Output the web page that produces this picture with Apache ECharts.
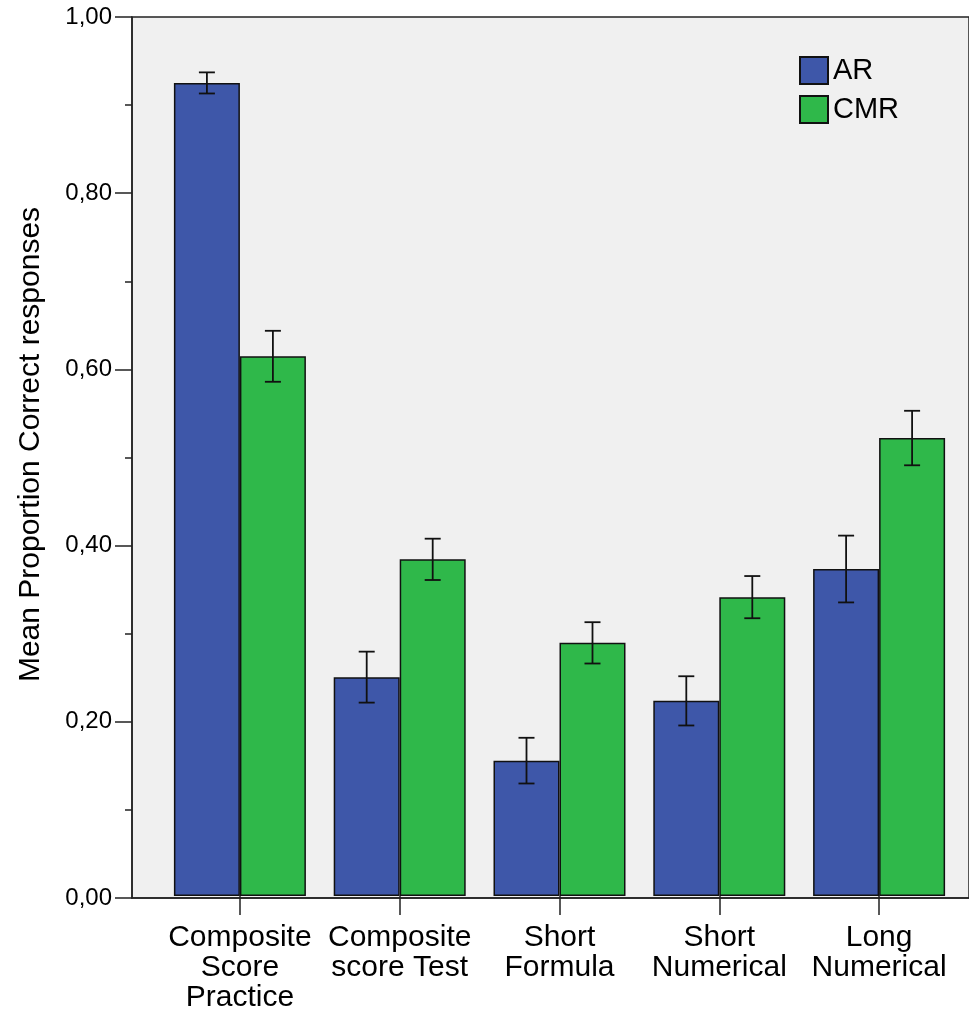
<!DOCTYPE html>
<html>
<head>
<meta charset="utf-8">
<script src="https://cdn.jsdelivr.net/npm/echarts@6/dist/echarts.min.js"></script>
<style>
html,body{margin:0;padding:0;background:#fff;}
#chart{width:969px;height:1013px;}
</style>
</head>
<body>
<div id="chart"></div>
<script>
const categories = ['Composite\nScore\nPractice', 'Composite\nscore Test', 'Short\nFormula', 'Short\nNumerical', 'Long\nNumerical'];
const seriesNames = ['AR', 'CMR'];
const arMean = [0.925, 0.249, 0.154, 0.222, 0.372];
const arErr = [0.012, 0.029, 0.026, 0.028, 0.038];
const cmrMean = [0.614, 0.383, 0.288, 0.340, 0.521];
const cmrErr = [0.029, 0.0235, 0.0235, 0.024, 0.031];
const yTicks = [0, 0.2, 0.4, 0.6, 0.8, 1.0];

const FONT = "'Liberation Sans', Arial, sans-serif";
const BLUE = '#3E57A9';
const GREEN = '#2FB84A';
const CAT_GAP = 0.174;

function errData(means, errs) {
  return means.map((m, i) => [i, m - errs[i], m + errs[i]]);
}

function errSeries(name, means, errs, side) {
  return {
    type: 'custom',
    name: name + ' err',
    xAxisIndex: 1,
    yAxisIndex: 1,
    silent: true,
    z: 5,
    data: errData(means, errs),
    renderItem: function (params, api) {
      const band = api.size([1, 0])[0];
      const barW = band * (1 - CAT_GAP) / 2;
      const cx = api.coord([api.value(0), 0])[0] + side * barW / 2;
      const yl = api.coord([api.value(0), api.value(1)])[1];
      const yh = api.coord([api.value(0), api.value(2)])[1];
      const cap = 8;
      const st = { stroke: '#111', lineWidth: 1.8 };
      return {
        type: 'group',
        children: [
          { type: 'line', shape: { x1: cx, y1: yl, x2: cx, y2: yh }, style: st },
          { type: 'line', shape: { x1: cx - cap, y1: yh, x2: cx + cap, y2: yh }, style: st },
          { type: 'line', shape: { x1: cx - cap, y1: yl, x2: cx + cap, y2: yl }, style: st }
        ]
      };
    }
  };
}

const chart = echarts.init(document.getElementById('chart'));
chart.setOption({
  animation: false,
  backgroundColor: '#ffffff',
  textStyle: { fontFamily: FONT },
  legend: {
    orient: 'vertical',
    left: 794,
    top: 51,
    itemWidth: 28,
    itemHeight: 27,
    itemGap: 10,
    icon: 'rect',
    data: seriesNames,
    textStyle: { fontSize: 29, color: '#000', fontFamily: FONT }
  },
  grid: [
    { left: 132, top: 17, width: 845, height: 881, show: true, backgroundColor: '#F0F0F0', borderColor: '#222', borderWidth: 1.5, containLabel: false },
    { left: 160, top: 17, width: 799, height: 881, containLabel: false }
  ],
  xAxis: [
    { type: 'category', gridIndex: 0, data: ['a'], axisLine: { show: true, lineStyle: { color: '#222', width: 1.5 } }, axisTick: { show: false }, axisLabel: { show: false }, splitLine: { show: false } },
    { type: 'category', gridIndex: 1, data: categories, axisLine: { show: false },
      axisTick: { show: true, alignWithLabel: true, length: 19, lineStyle: { color: '#222', width: 1.5 } },
      axisLabel: { fontSize: 30, color: '#000', margin: 27, lineHeight: 30, fontFamily: FONT, interval: 0 },
      splitLine: { show: false } }
  ],
  yAxis: [
    { type: 'value', gridIndex: 0, min: 0, max: 1, interval: 0.2,
      axisLine: { show: true, lineStyle: { color: '#222', width: 1.5 } },
      axisTick: { show: true, length: 17, lineStyle: { color: '#222', width: 1.5 } },
      minorTick: { show: true, splitNumber: 2, length: 7, lineStyle: { color: '#222', width: 1.5 } },
      splitLine: { show: false },
      axisLabel: { fontSize: 24, color: '#000', margin: 20, fontFamily: FONT,
        formatter: v => v.toFixed(2).replace('.', ',') },
      name: 'Mean Proportion Correct responses',
      nameLocation: 'middle',
      nameGap: 86,
      nameTextStyle: { fontSize: 30, color: '#000', fontFamily: FONT, padding: [0, 0, 0, 26] }
    },
    { type: 'value', gridIndex: 1, min: 0, max: 1, show: false, splitLine: { show: false } }
  ],
  series: [
    { type: 'bar', name: seriesNames[0], xAxisIndex: 1, yAxisIndex: 1, data: arMean,
      barGap: '0%', barCategoryGap: (CAT_GAP * 100) + '%',
      itemStyle: { color: BLUE, borderColor: '#111', borderWidth: 1.5 } },
    { type: 'bar', name: seriesNames[1], xAxisIndex: 1, yAxisIndex: 1, data: cmrMean,
      barGap: '0%', barCategoryGap: (CAT_GAP * 100) + '%',
      itemStyle: { color: GREEN, borderColor: '#111', borderWidth: 1.5 } },
    errSeries('AR', arMean, arErr, -1),
    errSeries('CMR', cmrMean, cmrErr, 1)
  ]
});
</script>
</body>
</html>
